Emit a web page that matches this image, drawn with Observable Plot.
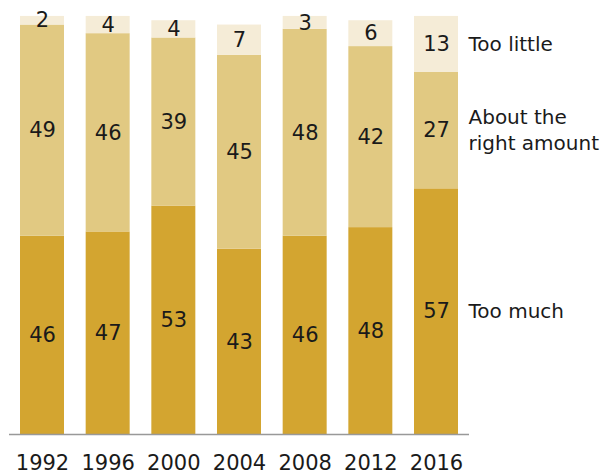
<!DOCTYPE html>
<html>
<head>
<meta charset="utf-8">
<script src="https://cdn.jsdelivr.net/npm/d3@7"></script>
<script src="https://cdn.jsdelivr.net/npm/@observablehq/plot@0.6"></script>
<style>
  html, body { margin: 0; padding: 0; background: #fff; }
  #chart { width: 607px; height: 474px; }
</style>
</head>
<body>
<div id="chart"></div>
<script>
const years = ["1992", "1996", "2000", "2004", "2008", "2012", "2016"];
const tooMuch = [46, 47, 53, 43, 46, 48, 57];
const aboutRight = [49, 46, 39, 45, 48, 42, 27];
const tooLittle = [2, 4, 4, 7, 3, 6, 13];
const categories = ["Too much", "About the right amount", "Too little"];
const legendLabels = ["Too much", "About the\nright amount", "Too little"];
const colors = ["#D3A530", "#E1C982", "#F5ECD7"];

const series = [tooMuch, aboutRight, tooLittle];
const rows = [];
years.forEach((yr, i) => {
  categories.forEach((c, k) => {
    rows.push({year: yr, cat: c, value: series[k][i], legend: legendLabels[k]});
  });
});
const lastYear = years[years.length - 1];
const lastRows = rows.filter(d => d.year === lastYear);

const font = "DejaVu Sans, sans-serif";

const chart = Plot.plot({
  width: 607,
  height: 474,
  marginLeft: 20,
  marginRight: 149,
  marginTop: 3,
  marginBottom: 40,
  style: {fontFamily: font, color: "#1a1a1a", background: "#fff"},
  x: {domain: years, paddingInner: 0.33, paddingOuter: 0, round: false, label: null},
  y: {domain: [0, 100], axis: null},
  color: {domain: categories, range: colors},
  marks: [
    Plot.barY(rows, {x: "year", y: "value", fill: "cat", z: "cat", order: categories}),
    Plot.text(rows, Plot.stackY({x: "year", y: "value", z: "cat", order: categories, text: d => String(d.value), fontSize: 21, fill: "#1a1a1a"})),
    Plot.text(lastRows, Plot.stackY({x: "year", y: "value", z: "cat", order: categories, text: "legend", fontSize: 20, fill: "#1a1a1a", textAnchor: "start", dx: 32, dy: -2, lineHeight: 1.3})),
    Plot.ruleY([0], {stroke: "#999", strokeWidth: 1.5, insetLeft: -11, insetRight: -11}),
    Plot.axisX({tickSize: 0, tickPadding: 21, fontSize: 21, label: null, fill: "#1a1a1a"})
  ]
});
document.getElementById("chart").appendChild(chart);
</script>
</body>
</html>
